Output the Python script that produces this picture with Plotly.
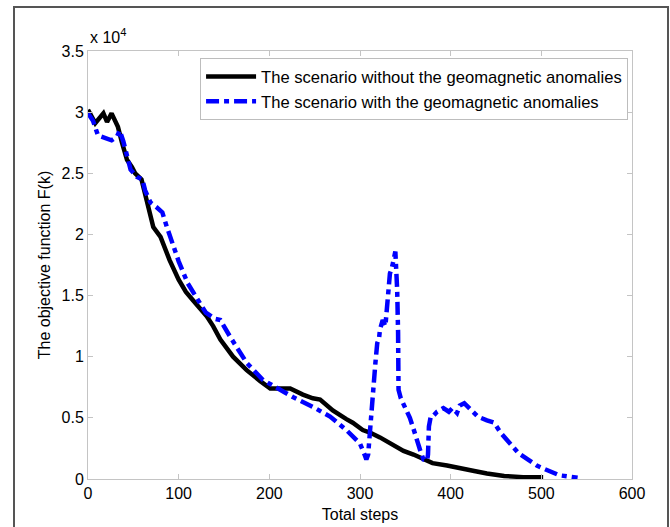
import plotly.graph_objects as go

# ---- data ----
steps_without = [0, 8, 17, 21, 26, 30, 33, 37.5, 43, 48.5, 52, 59, 63, 68, 72, 80, 90, 100, 108, 116,
                 131, 138, 146, 160, 175, 190, 201, 212, 223, 237, 248, 256, 270, 285, 292, 303, 311,
                 322, 335, 348, 359, 370, 380, 396, 410, 426, 440, 459, 480, 502]
f_without = [3.02, 2.91, 2.99, 2.92, 2.99, 2.92, 2.88, 2.75, 2.61, 2.55, 2.50, 2.45, 2.34, 2.17, 2.06,
             1.98, 1.79, 1.63, 1.53, 1.46, 1.33, 1.25, 1.14, 1.00, 0.89, 0.80, 0.74, 0.74, 0.74, 0.69,
             0.66, 0.65, 0.56, 0.49, 0.46, 0.40, 0.38, 0.34, 0.28, 0.23, 0.20, 0.16, 0.13, 0.11, 0.085,
             0.065, 0.045, 0.025, 0.015, 0.015]

steps_with = [0, 5.5, 11, 17, 26, 32, 35, 39, 43, 47, 54, 60, 63, 69, 76, 82, 87, 92, 100, 110, 117,
              123, 130, 140, 146, 157, 175, 193, 212, 226, 248, 267, 285, 292, 300, 305, 307, 309, 311,
              314, 317, 319, 321, 322, 325, 328, 330, 333, 335, 337, 339, 340, 341, 342, 342.5, 345,
              347, 350, 355, 359, 364, 367, 370, 374, 375, 376, 378, 380, 385, 392, 398, 402, 407, 410,
              415, 420, 425, 430, 440, 448, 455, 467, 475, 485, 495, 504, 512, 520, 530, 540]
f_with = [2.99, 2.93, 2.81, 2.79, 2.77, 2.80, 2.85, 2.76, 2.66, 2.53, 2.47, 2.45, 2.36, 2.26, 2.22,
          2.18, 2.06, 1.95, 1.78, 1.60, 1.52, 1.44, 1.36, 1.31, 1.30, 1.16, 0.95, 0.81, 0.73, 0.67,
          0.59, 0.51, 0.40, 0.35, 0.29, 0.20, 0.16, 0.20, 0.41, 0.70, 0.95, 1.11, 1.15, 1.22, 1.30,
          1.25, 1.45, 1.68, 1.72, 1.80, 1.86, 1.70, 1.55, 1.20, 0.73, 0.66, 0.63, 0.57, 0.50, 0.41,
          0.27, 0.22, 0.16, 0.15, 0.20, 0.43, 0.51, 0.51, 0.55, 0.58, 0.55, 0.58, 0.54, 0.60, 0.62,
          0.58, 0.55, 0.51, 0.48, 0.46, 0.38, 0.27, 0.21, 0.16, 0.11, 0.08, 0.05, 0.03, 0.02, 0.01]

scale = 1e4
y_ticks = [0, 0.5, 1, 1.5, 2, 2.5, 3, 3.5]
y_tick_text = ["0", "0.5", "1", "1.5", "2", "2.5", "3", "3.5"]
x_ticks = [0, 100, 200, 300, 400, 500, 600]

name_without = "The scenario without the geomagnetic anomalies"
name_with = "The scenario with the geomagnetic anomalies"

FONT = "Liberation Sans, Arial, sans-serif"
FS = 16

fig = go.Figure()
fig.add_trace(go.Scatter(
    x=steps_without, y=[v * scale for v in f_without], mode="lines", name=name_without,
    line=dict(color="black", width=4.5)))
fig.add_trace(go.Scatter(
    x=steps_with, y=[v * scale for v in f_with], mode="lines", name=name_with,
    line=dict(color="#0000ff", width=4.5, dash="13px,5px,5px,5px")))

axis_common = dict(
    showgrid=False, zeroline=False, showline=True, linecolor="#c4c4c4", linewidth=1,
    mirror="ticks", ticks="inside", ticklen=5, tickcolor="#c4c4c4", automargin=False,
    tickfont=dict(family=FONT, size=FS, color="black"),
)

fig.update_xaxes(range=[0, 600], tickvals=x_ticks, ticktext=[str(t) for t in x_ticks],
                 title=dict(text="Total steps", font=dict(family=FONT, size=FS, color="black"), standoff=7),
                 **axis_common)
fig.update_yaxes(range=[0, 3.5 * scale], tickvals=[t * scale for t in y_ticks], ticktext=y_tick_text,
                 title=dict(text="The objective function F(k)", font=dict(family=FONT, size=FS, color="black"),
                            standoff=6),
                 **axis_common)

fig.update_layout(
    width=670, height=527,
    margin=dict(l=88, r=38, t=51, b=48, autoexpand=False),
    paper_bgcolor="white", plot_bgcolor="white",
    font=dict(family=FONT, size=FS, color="black"),
    showlegend=True,
    legend=dict(x=0.206, y=0.983, xanchor="left", yanchor="top",
                bgcolor="white", bordercolor="#bdbdbd", borderwidth=1,
                font=dict(family=FONT, size=16.6, color="black"),
                itemwidth=50, tracegroupgap=0),
    annotations=[dict(text="x 10<sup>4</sup>", xref="paper", yref="paper", x=0, y=1.0,
                      xanchor="left", yanchor="bottom", showarrow=False, yshift=3,
                      font=dict(family=FONT, size=FS, color="black"))],
    shapes=[dict(type="rect", xref="paper", yref="paper",
                 x0=(14 - 88) / 544, x1=(668 - 88) / 544, y0=-0.3, y1=(479 - 7) / 428,
                 line=dict(color="#555555", width=2), layer="below")],
)

fig.write_html("out.html", config={"displayModeBar": False},
               post_script="document.body.style.margin='0';document.body.style.overflow='hidden';")
